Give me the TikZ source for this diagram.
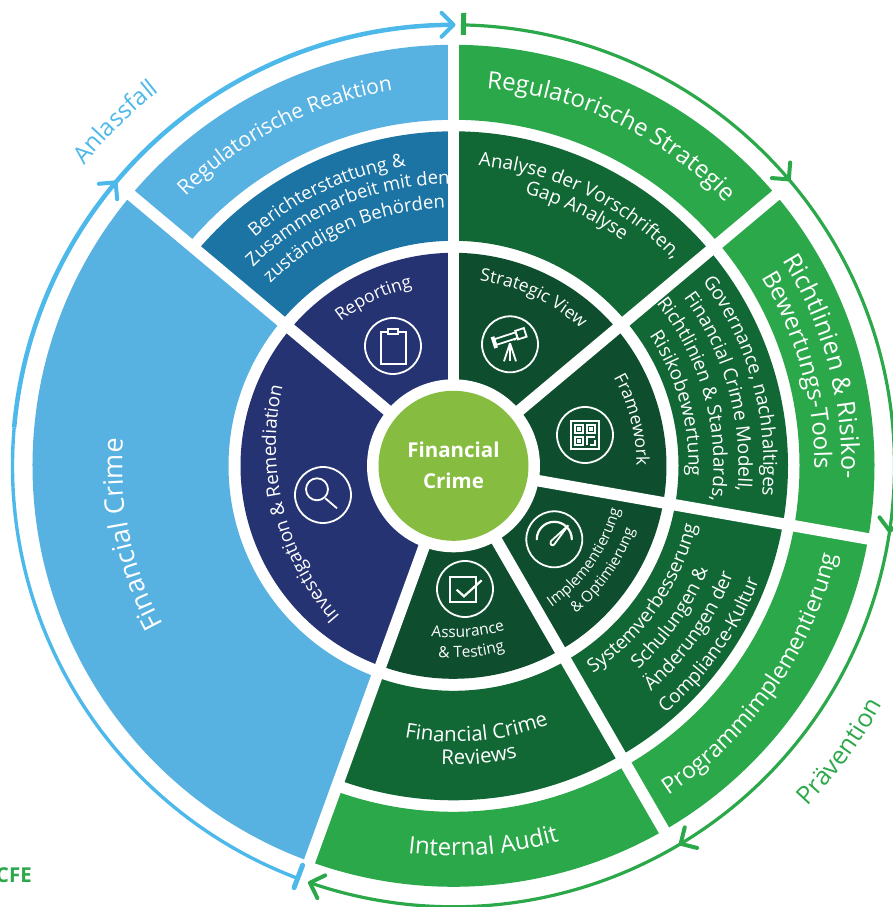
\documentclass[tikz,border=0pt]{standalone}
\usepackage{fontspec}
\setmainfont{Open Sans}
\usetikzlibrary{decorations.text}
\definecolor{lblue}{HTML}{57B1E1}
\definecolor{arcblue}{HTML}{4DB8EA}
\definecolor{mblue}{HTML}{1B74A3}
\definecolor{navy}{HTML}{263373}
\definecolor{ogreen}{HTML}{2BA84A}
\definecolor{mgreen}{HTML}{116835}
\definecolor{igreen}{HTML}{0E4E2E}
\definecolor{cgreen}{HTML}{86BC40}
\tikzset{
  icon/.style={draw=white,line width=1.8,fill=none,line join=miter},
  spoke/.style={draw=white,line width=11.5},
  tbar/.style={line width=5,line cap=round},
  chevron/.style={line width=4,line cap=round,line join=round,fill=none},
}
\newcommand{\seg}[5]{\fill[#5] (#1:#3) arc[start angle=#1,end angle=#2,radius=#3] -- (#2:#4) arc[start angle=#2,end angle=#1,radius=#4] -- cycle;}
\newcommand{\cwtext}[5]{\path[decorate,decoration={text along path,text align=center,text={|\fontsize{#3}{#3}\selectfont\color{#4}|#5}}] (#2+70:#1) arc[start angle=#2+70,end angle=#2-70,radius=#1];}
\newcommand{\ccwtext}[5]{\path[decorate,decoration={text along path,text align=center,text={|\fontsize{#3}{#3}\selectfont\color{#4}|#5}}] (#2-70:#1) arc[start angle=#2-70,end angle=#2+70,radius=#1];}
\newcommand{\chev}[2]{\begin{scope}[shift={(#1:441)},rotate=#1-90]\draw[chevron,#2] (-12,12) -- (0,0) -- (-12,-12);\end{scope}}
\begin{document}
\begin{tikzpicture}[x=1pt,y=1pt]
\useasboundingbox (-453.5,-441.2) rectangle (438.5,465.8);
% outer band
\seg{90}{40}{346}{421}{ogreen}
\seg{40}{-10}{346}{421}{ogreen}
\seg{-10}{-60}{346}{421}{ogreen}
\seg{-60}{-110}{346}{421}{ogreen}
\seg{90}{140}{346}{421}{lblue}
\seg{140}{250}{225}{421}{lblue}
% middle band
\seg{90}{40}{225}{334.5}{mgreen}
\seg{40}{-10}{225}{334.5}{mgreen}
\seg{-10}{-60}{225}{334.5}{mgreen}
\seg{-60}{-110}{225}{334.5}{mgreen}
\seg{90}{140}{225}{334.5}{mblue}
% inner band
\seg{90}{40}{80}{213}{igreen}
\seg{40}{-10}{80}{213}{igreen}
\seg{-10}{-60}{80}{213}{igreen}
\seg{-60}{-110}{80}{213}{igreen}
\seg{90}{140}{80}{213}{navy}
\seg{140}{250}{80}{213}{navy}
% spokes
\foreach \a in {90,40,-10,-60,-110,140} {\draw[spoke] (\a:70) -- (\a:425);}
% centre
\fill[white] (0,0) circle (86.5);
\node[circle,fill=cgreen,minimum size=150pt,inner sep=0pt,align=center,text=white,font=\fontsize{20.5}{31}\selectfont\bfseries] (centre) at (0,0) {Financial\\Crime};
% ring arrows
\draw[arcblue,line width=3.4] (249.3:441) arc[start angle=249.3,end angle=175,radius=441];
\draw[arcblue,line width=4.5] (175:441) arc[start angle=175,end angle=90.4,radius=441];
\draw[tbar,arcblue] (249.3:427) -- (249.3:451);
\chev{140}{arcblue}
\chev{90}{arcblue}
\draw[ogreen,line width=3.2] (88.7:441) arc[start angle=88.7,end angle=-108.7,radius=441];
\draw[ogreen,line width=5] (88.7:431) -- (88.7:453);
\chev{40.5}{ogreen}
\chev{-8.5}{ogreen}
\begin{scope}[shift={(-59:441)},rotate=-149]\draw[chevron,ogreen] (-12,12) -- (0,0) -- (-12,-12);\end{scope}
\begin{scope}[shift={(251:441)},rotate=161]\draw[chevron,ogreen] (-12,12) -- (0,0) -- (-12,-12);\end{scope}
% outer band texts
\cwtext{379}{64.5}{24}{white}{Regulatorische Strategie}
\cwtext{388}{15}{25}{white}{Richtlinien {\&} Risiko-}
\cwtext{361}{15.5}{24}{white}{Bewertungs-Tools}
\ccwtext{393}{-35}{23}{white}{Programmimplementierung}
\ccwtext{390}{-85.5}{24}{white}{Internal Audit}
\cwtext{380}{117}{21}{white}{Regulatorische Reaktion}
\cwtext{331}{192}{27}{white}{Financial Crime}
% middle band texts
\cwtext{301}{64.2}{19}{white}{Analyse der Vorschriften,}
\cwtext{281}{64.2}{19}{white}{Gap Analyse}
\cwtext{310}{15.5}{19}{white}{Governance, nachhaltiges}
\cwtext{285}{15.5}{19}{white}{Financial Crime Modell,}
\cwtext{260}{15.5}{19}{white}{Richtlinien {\&} Standards,}
\cwtext{235}{15.5}{19}{white}{Risikobewertung}
\ccwtext{250}{-35}{19}{white}{Systemverbesserung}
\ccwtext{275}{-35}{19}{white}{Schulungen {\&}}
\ccwtext{300}{-35}{19}{white}{Änderungen der}
\ccwtext{326}{-35}{19}{white}{Compliance-Kultur}
\ccwtext{276}{-85}{20.5}{white}{Financial Crime}
\ccwtext{299}{-85}{20.5}{white}{Reviews}
\cwtext{303}{115}{18.5}{white}{Berichterstattung {\&}}
\cwtext{282}{113}{18.5}{white}{Zusammenarbeit mit den}
\cwtext{258}{113.5}{18.5}{white}{zuständigen Behörden}
% inner band texts
\cwtext{187}{64.5}{17.5}{white}{Strategic View}
\cwtext{183}{14.5}{17.5}{white}{Framework}
\ccwtext{172}{-35}{15}{white}{Implementierung}
\ccwtext{192}{-35}{15}{white}{{\&} Optimierung}
\ccwtext{172}{-85}{15.5}{white}{Assurance}
\ccwtext{192}{-84.5}{15.5}{white}{{\&} Testing}
\begin{scope}[shift={(14:86)}]\cwtext{261}{194}{18.8}{white}{Investigation {\&} Remediation}\end{scope}
\cwtext{183}{115.5}{17.5}{white}{Reporting}
% ring labels
\cwtext{476}{134.5}{24}{arcblue}{Anlassfall}
\ccwtext{491}{-36.5}{25}{ogreen}{Prävention}
\node[anchor=east,inner sep=0pt,text=ogreen,font=\fontsize{20.5}{20.5}\selectfont\bfseries] (cfe) at (-421.5,-409) {CFE};
% icons
\begin{scope}[shift={(56.5,121.5)},icon]
  \draw (0,0) circle (28);
  \begin{scope}[shift={(0,7)},rotate=18]
    \draw (-17.5,-5) rectangle (-15.5,5);
    \draw (-15.5,-3) rectangle (7,3);
    \draw (7,-4.5) rectangle (16,4.5);
    \draw (4,-4.5) -- (4,-3);
  \end{scope}
  \draw (0,1) -- (0,-17);
  \draw (0,1) -- (-6,-17);
  \draw (0,1) -- (6,-17);
\end{scope}
\begin{scope}[shift={(131.5,30.8)},icon]
  \draw (0,0) circle (28);
  \draw (-14,-14) rectangle (14,14);
  \draw (-10,2) rectangle (-2,10);
  \draw (2,2) rectangle (10,10);
  \draw (-10,-10) rectangle (-2,-2);
  \draw (-7,5) rectangle (-5,7);
  \draw (5,5) rectangle (7,7);
  \draw (-7,-7) rectangle (-5,-5);
  \draw (2,-10) -- (2,-2) -- (10,-2);
  \draw (10,-5) -- (10,-10) -- (5,-10);
\end{scope}
\begin{scope}[shift={(100.8,-73.5)},icon]
  \draw (0,0) circle (28);
  \draw[line width=2.2,line cap=round] (-17.5,0) arc[start angle=180,end angle=0,radius=17.5];
  \draw (-3.5,-2) -- (14,14) -- (0,-5) arc[start angle=-30,end angle=-210,radius=2] -- cycle;
\end{scope}
\begin{scope}[shift={(11.5,-123.2)},icon]
  \draw (0,0) circle (28);
  \draw (-15,-13.3) rectangle (11,12);
  \draw[line width=2.2] (-8.3,-0.7) -- (-1,-7.3) -- (16.7,8.7);
\end{scope}
\begin{scope}[shift={(-130.5,-29.2)},icon]
  \draw (0,0) circle (28);
  \draw (-6,5.7) circle (11);
  \draw (2.3,-3.3) -- (14,-13.3);
\end{scope}
\begin{scope}[shift={(-60.5,119.8)},icon]
  \draw (0,0) circle (28);
  \draw (-12.3,-17.7) rectangle (12.7,14);
  \draw[fill=navy] (-5,12) rectangle (5,16.7);
\end{scope}
\end{tikzpicture}
\end{document}
